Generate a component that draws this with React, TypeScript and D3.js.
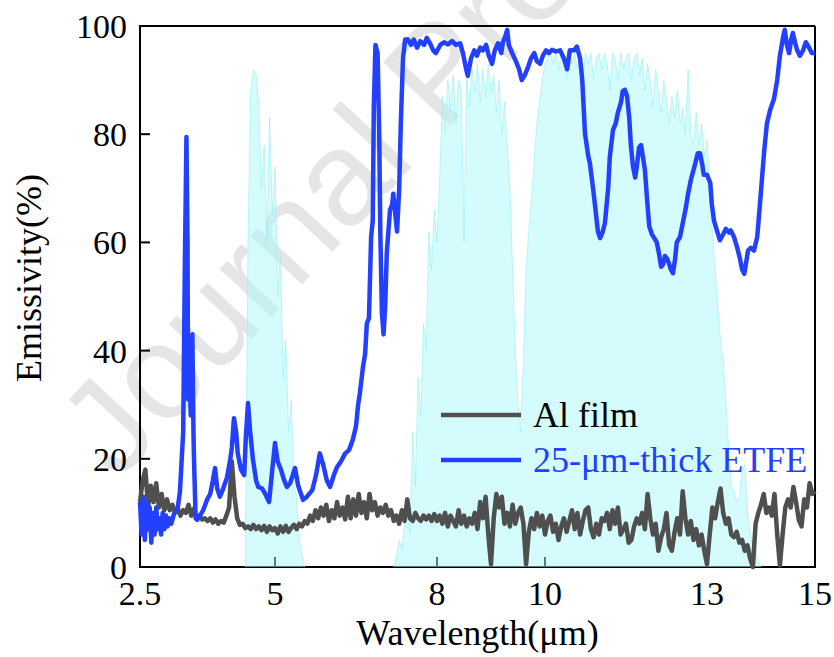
import React from "react";
import * as d3 from "d3";

// ---------- data ----------
const xTicks = [2.5, 5, 8, 10, 13, 15];
const yTicks = [0, 20, 40, 60, 80, 100];
const seriesNames = ["Al film", "25-\u03bcm-thick ETFE"];
const xTitle = "Wavelength(\u03bcm)";
const yTitle = "Emissivity(%)";

// 25-um-thick ETFE emissivity: [wavelength (um), emissivity (%)]
const etfe: [number, number][] = [
  [2.5, 12], [2.53, 6], [2.56, 13], [2.59, 5], [2.62, 12], [2.65, 7], [2.68, 11], [2.71, 4.5],
  [2.74, 10], [2.77, 6], [2.8, 11], [2.83, 7], [2.86, 9], [2.89, 6], [2.92, 10], [2.95, 7],
  [2.98, 9.5], [3.01, 7.5], [3.04, 9], [3.08, 8], [3.12, 9.5], [3.16, 10.5], [3.2, 11], [3.24, 14],
  [3.3, 25], [3.33, 55], [3.36, 79.5], [3.38, 60], [3.39, 31], [3.41, 38], [3.44, 28], [3.47, 43],
  [3.49, 25], [3.5, 20], [3.53, 9], [3.56, 8.7], [3.61, 9.5], [3.67, 10.5], [3.74, 12.4], [3.8, 13.5],
  [3.85, 16], [3.89, 18.3], [3.93, 14.5], [3.98, 13], [4.04, 14.5], [4.11, 16.5], [4.17, 19.8], [4.2, 22],
  [4.24, 27.5], [4.28, 25], [4.31, 21], [4.37, 18], [4.43, 17], [4.46, 24], [4.5, 30.3], [4.54, 25],
  [4.59, 20], [4.65, 16], [4.69, 14.8], [4.76, 14.5], [4.81, 13.7], [4.89, 12], [4.94, 17], [5.0, 22.9],
  [5.05, 19.5], [5.11, 18], [5.17, 16], [5.22, 14.8], [5.28, 15.5], [5.33, 17], [5.37, 18.3], [5.43, 15],
  [5.52, 12.4], [5.59, 13], [5.69, 14.2], [5.76, 17], [5.83, 21], [5.89, 19], [5.96, 16], [6.02, 14.8],
  [6.09, 17], [6.15, 18.5], [6.22, 19.5], [6.3, 21], [6.37, 21.6], [6.44, 23.5], [6.5, 26], [6.54, 30],
  [6.57, 32], [6.63, 37], [6.67, 39.5], [6.7, 45], [6.74, 46], [6.78, 61], [6.81, 64], [6.83, 85],
  [6.86, 96.5], [6.9, 95], [6.93, 80], [6.95, 62], [6.98, 47], [7.01, 43], [7.04, 48], [7.07, 58],
  [7.13, 66], [7.17, 67], [7.19, 69], [7.22, 66], [7.26, 62], [7.3, 70], [7.33, 82], [7.37, 94],
  [7.41, 97.5], [7.46, 97.5], [7.52, 96.5], [7.57, 97.5], [7.63, 96], [7.69, 97.2], [7.76, 96.5], [7.81, 97.8],
  [7.87, 96.8], [7.93, 95.5], [7.98, 95], [8.06, 96.5], [8.13, 97], [8.2, 96.6], [8.28, 97.2], [8.35, 96.5],
  [8.43, 96.8], [8.48, 95], [8.54, 92], [8.57, 90.8], [8.63, 94], [8.69, 95.5], [8.74, 94.5], [8.8, 96],
  [8.85, 95.5], [8.91, 96.5], [8.96, 94.5], [9.02, 93], [9.07, 95.5], [9.13, 96.8], [9.19, 95], [9.22, 97],
  [9.26, 98], [9.3, 99.3], [9.33, 96.5], [9.39, 95], [9.46, 93.5], [9.52, 92], [9.57, 90], [9.63, 91],
  [9.69, 92.5], [9.74, 94], [9.8, 95], [9.85, 93.5], [9.91, 93], [9.96, 94.5], [10.02, 95.5], [10.07, 95],
  [10.13, 95.6], [10.2, 95.3], [10.28, 95.5], [10.35, 94], [10.41, 92], [10.46, 95.5], [10.54, 95.5], [10.59, 96.2],
  [10.65, 94], [10.69, 90], [10.74, 80.2], [10.8, 76], [10.83, 74.7], [10.89, 70], [10.93, 66.5], [10.98, 62],
  [11.02, 60.8], [11.07, 62], [11.11, 63.6], [11.17, 70], [11.2, 75.8], [11.26, 80.8], [11.31, 82], [11.35, 84],
  [11.41, 86], [11.44, 88], [11.48, 88.2], [11.52, 87], [11.56, 83], [11.59, 78], [11.63, 74], [11.67, 72],
  [11.7, 74], [11.74, 77.5], [11.78, 78], [11.81, 76], [11.85, 73.4], [11.89, 68], [11.93, 63], [11.98, 61.5],
  [12.04, 60.5], [12.07, 60], [12.11, 58], [12.15, 55.5], [12.19, 56], [12.22, 57.5], [12.26, 57], [12.3, 56],
  [12.33, 55], [12.37, 54.3], [12.41, 57], [12.44, 60], [12.5, 61], [12.56, 64], [12.61, 66.5], [12.65, 69],
  [12.7, 71.5], [12.74, 73], [12.78, 74.5], [12.83, 76.5], [12.87, 76.5], [12.91, 74.5], [12.94, 72.5], [13.0, 72.5],
  [13.06, 71], [13.09, 67], [13.13, 64], [13.19, 62], [13.24, 60.4], [13.3, 61.5], [13.35, 62.5], [13.41, 61.8],
  [13.44, 62.2], [13.5, 61], [13.56, 59], [13.61, 57], [13.65, 55], [13.69, 54.2], [13.72, 56], [13.76, 58.5],
  [13.81, 59], [13.87, 58.5], [13.93, 61], [13.98, 67], [14.02, 72], [14.06, 77], [14.11, 82], [14.17, 84.5],
  [14.24, 86.5], [14.3, 90], [14.35, 94.5], [14.41, 98], [14.44, 99.3], [14.48, 96.5], [14.52, 95], [14.56, 97.5],
  [14.59, 98.7], [14.63, 97], [14.67, 95.5], [14.72, 94.5], [14.78, 95.5], [14.83, 97], [14.89, 96], [14.94, 95],
  [15.0, 95],
];

// Al film emissivity (%), sampled every 0.05 um; each row covers 0.5 um starting at 2.5 + 0.5*row
const alFilmStart = 2.5;
const alFilmStep = 0.05;
const alFilmRows: number[][] = [
  [12, 16, 18, 11, 15, 12, 15.5, 11, 13.5, 10.5],
  [12.5, 10.5, 11.5, 10, 10.8, 9.5, 10.5, 10, 11.5, 9.5],
  [10.8, 9, 9.5, 8.8, 9, 8.5, 9, 8.2, 8.8, 8],
  [8.5, 8.2, 9.5, 11, 19.5, 13, 9, 7.8, 8, 7.2],
  [7.5, 7, 7.8, 7, 7.5, 6.8, 7.6, 6.5, 7.5, 6.8],
  [7.2, 6.2, 7.5, 6.5, 7.6, 6.5, 7.2, 7.8, 7, 8],
  [7.5, 8.5, 8, 9.5, 8.5, 10.5, 9, 11, 9.5, 11.5],
  [8.5, 10.5, 9, 12, 9.5, 11, 8.8, 13, 9, 12.5],
  [9.5, 13.5, 10, 12, 9, 13.5, 10.5, 12, 9.5, 11],
  [10, 11.5, 9.5, 10.5, 8.5, 9.5, 8, 10.5, 8.5, 12.5],
  [9, 8.5, 10, 9, 8.5, 9.5, 8.8, 9.5, 8.5, 9.8],
  [8.5, 9.5, 8, 10, 7.5, 9.5, 8.5, 7.5, 10.5, 8],
  [9.5, 7.5, 9, 8, 10, 7, 12, 9, 13, 6],
  [0.5, 9, 13.5, 11, 13, 8, 10, 7.5, 11.5, 8],
  [10, 11, 8, 0.5, 6.5, 9, 7, 10, 7.5, 9.5],
  [6, 8.5, 9.5, 6.5, 8, 5, 7.5, 9, 6.5, 8.5],
  [10.5, 7, 10, 6, 8.5, 10.5, 11, 7, 5.5, 8],
  [6, 9, 8.5, 10, 7, 10.5, 8, 11, 6, 7],
  [8, 4.5, 5, 7.5, 9, 8, 10, 7, 13.5, 9],
  [6, 8, 3, 5.5, 7, 10, 4, 3, 6.5, 9],
  [6, 14, 9, 6, 8.5, 5, 7, 4, 6, 3],
  [0.5, 6, 11, 9, 12, 14.5, 10, 8, 9, 6],
  [5.5, 6.5, 4.5, 5, 3, 4, 1.5, 0, 8, 10],
  [11.5, 13.5, 10, 11, 9.5, 13.5, 6, 0.3, 6, 11],
  [12.5, 11, 14.8, 12, 8.7, 7.5, 12.5, 11, 15.5, 13.5],
  [14],
];

// Atmospheric transmittance (%), two windows, sampled every 0.05 um
const atmStep = 0.05;
const atmBand1Start = 4.45;
const atmBand1 = [0, 60, 88, 92, 91, 85, 70, 78, 60, 83, 65, 74, 50, 58, 35, 42, 25, 31, 15, 13, 5, 2, 0];
const atmBand2Start = 7.2;
const atmBand2Rows: number[][] = [
  [0, 2, 5, 3, 8, 12, 6, 25, 15, 35],
  [28, 45, 40, 62, 55, 66, 60, 72, 87, 80],
  [90, 85, 91, 82, 90, 88, 60, 91, 85, 92],
  [88, 93, 86, 92, 87, 93, 88, 91, 84, 90],
  [80, 86, 78, 70, 55, 40, 30, 25, 38, 55],
  [62, 68, 75, 82, 86, 90, 93, 94, 95, 93],
  [95, 92, 95, 94, 90, 95, 93, 95, 92, 95],
  [91, 95, 93, 95, 90, 94, 95, 92, 95, 93],
  [88, 95, 94, 90, 95, 92, 94, 95, 90, 94],
  [95, 91, 94, 88, 93, 90, 85, 92, 88, 84],
  [90, 86, 82, 87, 83, 88, 82, 85, 80, 92],
  [80, 78, 84, 78, 82, 76, 79, 70, 62, 55],
  [48, 42, 38, 30, 22, 15, 14, 12, 13, 18],
  [19, 10, 6, 4, 3, 1, 0],
];

// ---------- helpers ----------
function rowsToPoints(rows: number[][], start: number, step: number): [number, number][] {
  const pts: [number, number][] = [];
  rows.forEach((row, r) => {
    row.forEach((v, i) => {
      pts.push([start + r * step * 10 + i * step, v]);
    });
  });
  return pts;
}

const W = 834;
const H = 657;
const left = 140;
const right = 815;
const top = 26;
const bottom = 567;

const BLUE = "#2340ff";
const GRAY = "#4f4f4f";
const SERIF = "'Liberation Serif', 'Times New Roman', serif";

export default function App() {
  const x = d3.scaleLinear().domain([2.5, 15]).range([left, right]);
  const y = d3.scaleLinear().domain([0, 100]).range([bottom, top]);

  const alPts = rowsToPoints(alFilmRows, alFilmStart, alFilmStep);
  const band1 = atmBand1.map((v, i) => [atmBand1Start + i * atmStep, v] as [number, number]);
  const band2 = rowsToPoints(atmBand2Rows, atmBand2Start, atmStep);

  const line = d3
    .line<[number, number]>()
    .x((d) => x(d[0]))
    .y((d) => y(d[1]));
  const area = d3
    .area<[number, number]>()
    .x((d) => x(d[0]))
    .y0(y(0))
    .y1((d) => y(d[1]));

  const tickLen = 10;

  return (
    <svg
      width={W}
      height={H}
      viewBox={`0 0 ${W} ${H}`}
      style={{ position: "absolute", left: 0, top: 0, background: "#fff" }}
    >
      <rect x={0} y={0} width={W} height={H} fill="#fff" />

      {/* watermark */}
      <text
        x={118}
        y={482}
        transform="rotate(-47, 118, 482)"
        fontFamily="'Liberation Sans', Arial, sans-serif"
        fontSize={134}
        fill="#000"
        fillOpacity={0.1}
      >
        Journal Pre-proof
      </text>

      {/* axes frame */}
      <g stroke="#000" strokeWidth={2} fill="none">
        <line x1={left} y1={top} x2={right} y2={top} />
        <line x1={right} y1={top} x2={right} y2={bottom} />
        <line x1={left} y1={top - 1} x2={left} y2={bottom + 1} />
        <line x1={left - 1} y1={bottom} x2={right + 1} y2={bottom} />
        {xTicks.map((t) => (
          <line key={"xt" + t} x1={x(t)} x2={x(t)} y1={bottom} y2={bottom - tickLen} />
        ))}
        {yTicks.map((t) => (
          <line key={"yt" + t} x1={left} x2={left + tickLen} y1={y(t)} y2={y(t)} />
        ))}
      </g>

      {/* atmospheric window */}
      {[band1, band2].map((b, i) => (
        <g key={"band" + i}>
          <path d={area(b) || ""} fill="rgb(170,250,250)" fillOpacity={0.5} stroke="none" />
          <path
            d={line(b) || ""}
            fill="none"
            stroke="rgb(150,240,240)"
            strokeOpacity={0.6}
            strokeWidth={1}
          />
        </g>
      ))}

      {/* data lines */}
      <path
        d={line(alPts) || ""}
        fill="none"
        stroke={GRAY}
        strokeWidth={4.5}
        strokeLinejoin="round"
      />
      <path
        d={line(etfe) || ""}
        fill="none"
        stroke={BLUE}
        strokeWidth={4.5}
        strokeLinejoin="round"
      />

      {/* tick labels */}
      <g fontFamily={SERIF} fontSize={34} fill="#000">
        {xTicks.map((t) => (
          <text key={"xl" + t} x={x(t)} y={605} textAnchor="middle">
            {t}
          </text>
        ))}
        {yTicks.map((t) => (
          <text key={"yl" + t} x={127} y={y(t)} dy="0.35em" textAnchor="end">
            {t}
          </text>
        ))}
      </g>

      {/* axis titles */}
      <text
        x={(left + right) / 2}
        y={645}
        textAnchor="middle"
        fontFamily={SERIF}
        fontSize={36}
        fill="#000"
      >
        {xTitle}
      </text>
      <text
        transform={`translate(41, 278) rotate(-90)`}
        textAnchor="middle"
        fontFamily={SERIF}
        fontSize={36}
        fill="#000"
      >
        {yTitle}
      </text>

      {/* legend */}
      <g>
        <line x1={441} x2={521} y1={415} y2={415} stroke={GRAY} strokeWidth={4.5} />
        <text x={533} y={427} fontFamily={SERIF} fontSize={36} fill="#000">
          {seriesNames[0]}
        </text>
        <line x1={441} x2={521} y1={460} y2={460} stroke={BLUE} strokeWidth={4.5} />
        <text x={533} y={472} fontFamily={SERIF} fontSize={36} fill={BLUE}>
          {seriesNames[1]}
        </text>
      </g>
    </svg>
  );
}
